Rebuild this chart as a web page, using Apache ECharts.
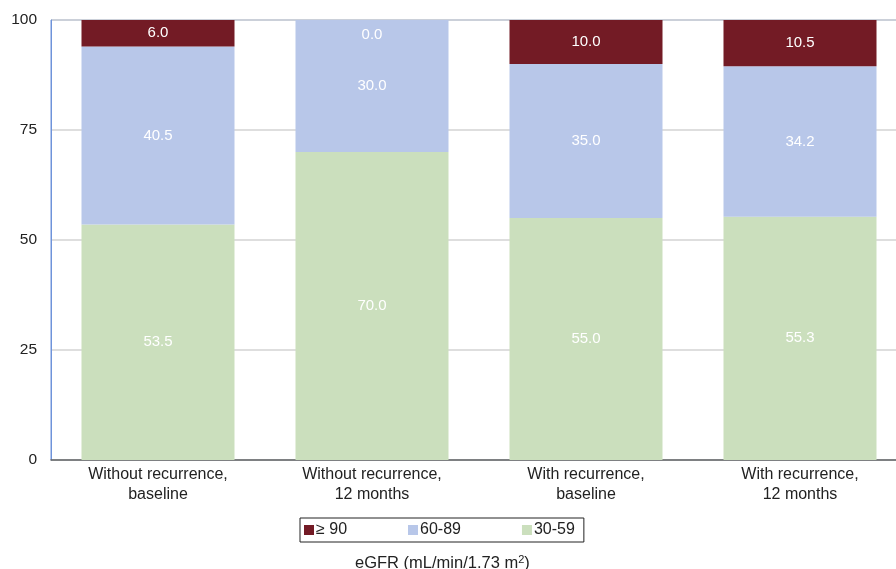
<!DOCTYPE html>
<html>
<head>
<meta charset="utf-8">
<script src="https://cdn.jsdelivr.net/npm/echarts@6/dist/echarts.min.js"></script>
<style>
  html, body { margin: 0; padding: 0; background: #fff; }
  #chart { width: 896px; height: 569px; }
</style>
</head>
<body>
<div id="chart"></div>
<script>
const categories = [
  'Without recurrence,\nbaseline',
  'Without recurrence,\n12 months',
  'With recurrence,\nbaseline',
  'With recurrence,\n12 months'
]
const yTicks = [0, 25, 50, 75, 100]
const seriesNames = ['≥ 90', '60-89', '30-59']
const low = [53.5, 70.0, 55.0, 55.3]    // 30-59
const mid = [40.5, 30.0, 35.0, 34.2]    // 60-89
const high = [6.0, 0.0, 10.0, 10.5]     // >= 90

const colors = {
  high: '#731b25',
  mid: '#b8c7e9',
  low: '#cbdfbd'
}

const chart = echarts.init(document.getElementById('chart'))

function makeSeries(name, values, color) {
  return {
    name: name,
    type: 'bar',
    stack: 'total',
    barWidth: '71.5%',
    itemStyle: { color: color },
    label: {
      show: true,
      position: 'inside',
      color: '#fff',
      fontSize: 15,
      formatter: p => p.value.toFixed(1)
    },
    // a zero bar still shows its label, a bit below the top edge
    data: values.map(v => v === 0 ? { value: v, label: { offset: [0, 15] } } : v)
  }
}

const options = {
  animation: false,
  textStyle: { fontFamily: 'Liberation Sans, Arial, sans-serif' },
  grid: {
    left: 51,
    width: 856,   // plot runs past the right edge of the picture
    top: 20,
    bottom: 109,
    show: true,
    borderColor: '#6e93da',
    borderWidth: 1,
    containLabel: false,
    outerBoundsMode: 'none'
  },
  legend: {
    data: seriesNames,
    left: 300,
    top: 518,
    itemWidth: 10,
    itemHeight: 10,
    itemGap: 61,
    borderColor: '#222',
    borderWidth: 1,
    padding: [4, 9, 4, 4],
    textStyle: { fontSize: 16, color: '#222', padding: [0, 0, 0, -3] },
    icon: 'rect'
  },
  title: {
    text: 'eGFR (mL/min/1.73 m{sup|2})',
    left: 350,
    top: 549,
    textStyle: {
      fontSize: 16.5,
      fontWeight: 'normal',
      color: '#222',
      rich: {
        sup: { fontSize: 11, verticalAlign: 'top', padding: [0, 0, 8, 0], color: '#222' }
      }
    }
  },
  xAxis: {
    type: 'category',
    data: categories,
    axisLine: { lineStyle: { color: '#666', width: 1.5 } },
    axisTick: { show: false },
    axisLabel: { fontSize: 16, color: '#222', lineHeight: 20, margin: 5 }
  },
  yAxis: {
    type: 'value',
    min: yTicks[0],
    max: yTicks[yTicks.length - 1],
    interval: 25,
    axisLine: { show: true, lineStyle: { color: '#6e93da' } },
    axisTick: { show: false },
    axisLabel: { fontSize: 15.5, color: '#222', margin: 14 },
    splitLine: { lineStyle: { color: '#d3d3d3', width: 1.5 } }
  },
  series: [
    makeSeries(seriesNames[2], low, colors.low),
    makeSeries(seriesNames[1], mid, colors.mid),
    makeSeries(seriesNames[0], high, colors.high)
  ]
}

chart.setOption(options)
</script>
</body>
</html>
